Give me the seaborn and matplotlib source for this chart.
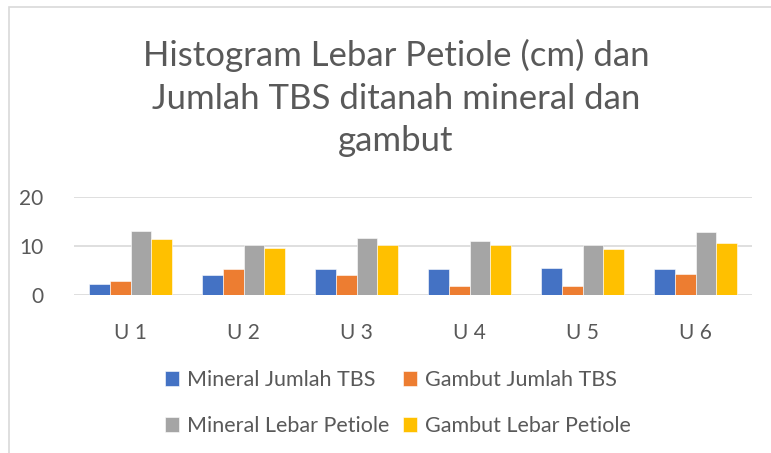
import matplotlib
matplotlib.use("Agg")
import matplotlib.pyplot as plt
import seaborn as sns
import pandas as pd
from matplotlib.patches import Rectangle

categories = ["U 1", "U 2", "U 3", "U 4", "U 5", "U 6"]
series_names = ["Mineral Jumlah TBS", "Gambut Jumlah TBS",
                "Mineral Lebar Petiole", "Gambut Lebar Petiole"]
mineral_tbs = [2.2, 4.0, 5.3, 5.3, 5.6, 5.3]
gambut_tbs = [2.9, 5.3, 4.0, 1.9, 1.9, 4.3]
mineral_petiole = [13.1, 10.3, 11.6, 11.0, 10.3, 12.9]
gambut_petiole = [11.4, 9.5, 10.3, 10.3, 9.3, 10.6]
yticks = [0, 10, 20]
colors = ["#4472C4", "#ED7D31", "#A5A5A5", "#FFC000"]
title = "Histogram Lebar Petiole (cm) dan\nJumlah TBS ditanah mineral dan\ngambut"

rows = []
for name, vals in zip(series_names, [mineral_tbs, gambut_tbs, mineral_petiole, gambut_petiole]):
    for c, v in zip(categories, vals):
        rows.append({"cat": c, "series": name, "value": v})
df = pd.DataFrame(rows)

sns.set_theme(style="white")
plt.rcParams["font.family"] = ["Lato", "DejaVu Sans"]
text_color = "#595959"

fig = plt.figure(figsize=(7.71, 4.53), dpi=100)
ax = fig.add_axes([74/771, 1-295/453, 678/771, 98/453])

sns.barplot(data=df, x="cat", y="value", hue="series", palette=colors,
            saturation=1, width=0.73, gap=0, ax=ax, edgecolor="white",
            linewidth=0.4, legend=True, errorbar=None)

ax.set_ylim(0, 20)
ax.set_yticks(yticks)
ax.set_xlim(-0.5, 5.5)
ax.yaxis.grid(True, color="#d9d9d9", linewidth=1.2)
ax.set_axisbelow(True)
for s in ax.spines.values():
    s.set_visible(False)
ax.set_xlabel("")
ax.set_ylabel("")
ax.tick_params(axis="y", labelsize=15, labelcolor=text_color, pad=22, length=0)
ax.tick_params(axis="x", labelsize=15, labelcolor=text_color, pad=20, length=0)

handles, labels = ax.get_legend_handles_labels()
ax.get_legend().remove()
order = [0, 2, 1, 3]
fig.legend([handles[i] for i in order], [labels[i] for i in order], ncol=2,
           loc="center", bbox_to_anchor=(398/771, 1-403/453),
           frameon=False, fontsize=15.5, labelcolor=text_color,
           handlelength=0.65, handleheight=0.65, handletextpad=0.4,
           columnspacing=0.6, labelspacing=1.2)

fig.text(396/771, 1-98/453, title, ha="center", va="center", fontsize=25,
         color=text_color, linespacing=1.42)

fig.patches.append(Rectangle((9/771, -0.1), 2, 1 - 7/453 + 0.1, transform=fig.transFigure,
                             fill=False, edgecolor="#d9d9d9", linewidth=1.2))

fig.savefig("out.png", dpi=100)
